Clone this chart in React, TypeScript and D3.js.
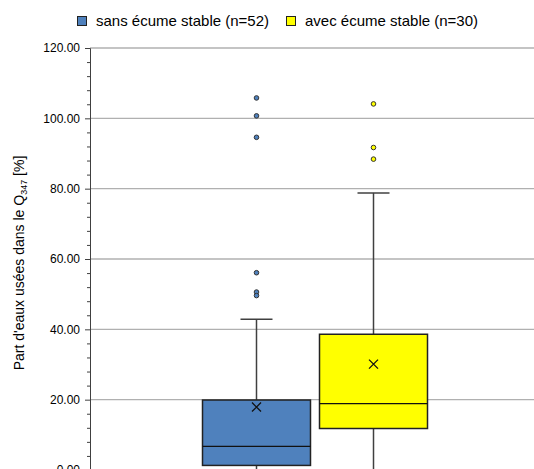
import React, { useEffect, useRef } from 'react';
import * as d3 from 'd3';

// series and summary stats
const seriesNames = ['sans écume stable (n=52)', 'avec écume stable (n=30)'];
const seriesColors = ['#4f81bd', '#ffff00'];
const q1Values = [1.3, 11.8];
const medianValues = [6.7, 18.9];
const q3Values = [19.9, 38.6];
const meanValues = [17.9, 30.1];
const whiskerLow = [0, 0];
const whiskerHigh = [42.9, 78.8];
const outliers = [
  [105.8, 100.7, 94.6, 56.1, 50.6, 49.6],
  [104.1, 91.7, 88.4],
];
const yTicks = [0, 20, 40, 60, 80, 100, 120];

export default function App() {
  const svgRef = useRef<SVGSVGElement | null>(null);

  useEffect(() => {
    if (!svgRef.current) return;
    const W = 534;
    const H = 469;
    const svg = d3.select(svgRef.current);
    svg.selectAll('*').remove();
    svg.attr('width', W).attr('height', H);

    const left = 90;
    const right = 540;

    const y = d3.scaleLinear().domain([0, 120]).range([470, 48]);
    const x = d3.scaleBand<string>()
      .domain(seriesNames)
      .range([left, right])
      .paddingInner(0)
      .paddingOuter(0.923);
    const boxW = x.bandwidth() * 0.923;
    const capW = 32;

    const font = 'Arial, "Liberation Sans", sans-serif';

    // gridlines
    svg.append('g')
      .selectAll('line')
      .data(yTicks.filter(t => t > 0))
      .join('line')
      .attr('x1', left)
      .attr('x2', W)
      .attr('y1', d => y(d))
      .attr('y2', d => y(d))
      .attr('stroke', '#b0b0b0')
      .attr('stroke-width', 1.3);

    // y axis
    const yAxis = d3.axisLeft(y)
      .tickValues(yTicks)
      .tickSize(5)
      .tickPadding(5)
      .tickFormat(d => d3.format('.2f')(d as number));
    const ag = svg.append('g').attr('transform', `translate(${left},0)`).call(yAxis);
    ag.select('.domain').attr('stroke', '#404040');
    ag.selectAll('.tick line').attr('stroke', '#404040');
    ag.selectAll('.tick text')
      .attr('font-family', font)
      .attr('font-size', 12)
      .attr('fill', '#000');

    // minor ticks every 4
    const minor = d3.range(0, 121, 4).filter(v => v % 20 !== 0);
    svg.append('g')
      .selectAll('line')
      .data(minor)
      .join('line')
      .attr('x1', left - 3)
      .attr('x2', left)
      .attr('y1', d => y(d) + 0.5)
      .attr('y2', d => y(d) + 0.5)
      .attr('stroke', '#404040');

    // axis title
    const title = svg.append('text')
      .attr('transform', `translate(24,${(y(120) + y(0)) / 2 + 4}) rotate(-90)`)
      .attr('text-anchor', 'middle')
      .attr('font-family', font)
      .attr('font-size', 14)
      .attr('fill', '#000');
    title.append('tspan').text("Part d'eaux usées dans le Q");
    title.append('tspan').attr('font-size', 9).attr('dy', 3).text('347');
    title.append('tspan').attr('dy', -3).text(' [%]');

    // boxes
    seriesNames.forEach((name, i) => {
      const cx = (x(name) as number) + x.bandwidth() / 2;
      const g = svg.append('g');
      const stroke = '#404040';
      // whiskers
      g.append('line').attr('x1', cx).attr('x2', cx)
        .attr('y1', y(q3Values[i])).attr('y2', y(whiskerHigh[i]))
        .attr('stroke', stroke).attr('stroke-width', 1.5);
      g.append('line').attr('x1', cx).attr('x2', cx)
        .attr('y1', y(q1Values[i])).attr('y2', y(whiskerLow[i]))
        .attr('stroke', stroke).attr('stroke-width', 1.5);
      [whiskerHigh[i], whiskerLow[i]].forEach(v => {
        g.append('line')
          .attr('x1', cx - capW / 2).attr('x2', cx + capW / 2)
          .attr('y1', y(v)).attr('y2', y(v))
          .attr('stroke', stroke).attr('stroke-width', 1.5);
      });
      // box
      g.append('rect')
        .attr('x', cx - boxW / 2)
        .attr('y', y(q3Values[i]))
        .attr('width', boxW)
        .attr('height', y(q1Values[i]) - y(q3Values[i]))
        .attr('fill', seriesColors[i])
        .attr('stroke', '#222')
        .attr('stroke-width', 1.5);
      g.append('line')
        .attr('x1', cx - boxW / 2).attr('x2', cx + boxW / 2)
        .attr('y1', y(medianValues[i])).attr('y2', y(medianValues[i]))
        .attr('stroke', '#111').attr('stroke-width', 1.2);
      // mean marker
      const my = y(meanValues[i]);
      const s = 4.5;
      g.append('path')
        .attr('d', `M${cx - s},${my - s}L${cx + s},${my + s}M${cx - s},${my + s}L${cx + s},${my - s}`)
        .attr('stroke', '#111').attr('stroke-width', 1.3).attr('fill', 'none');
      // outliers
      g.selectAll('circle')
        .data(outliers[i])
        .join('circle')
        .attr('cx', cx)
        .attr('cy', d => y(d))
        .attr('r', 2.3)
        .attr('fill', seriesColors[i])
        .attr('stroke', '#333')
        .attr('stroke-width', 1);
    });

    // legend
    const legendX = [77, 286];
    seriesNames.forEach((name, i) => {
      svg.append('rect')
        .attr('x', legendX[i] + 0.5).attr('y', 16.5)
        .attr('width', 9).attr('height', 9)
        .attr('fill', seriesColors[i])
        .attr('stroke', '#222')
        .attr('stroke-width', 1);
      svg.append('text')
        .attr('x', legendX[i] + 19)
        .attr('y', 26)
        .attr('font-family', font)
        .attr('font-size', 15)
        .attr('fill', '#000')
        .text(name);
    });
  }, []);

  return (
    <svg
      ref={svgRef}
      style={{ position: 'absolute', left: 0, top: 0, display: 'block', background: '#fff' }}
    />
  );
}
